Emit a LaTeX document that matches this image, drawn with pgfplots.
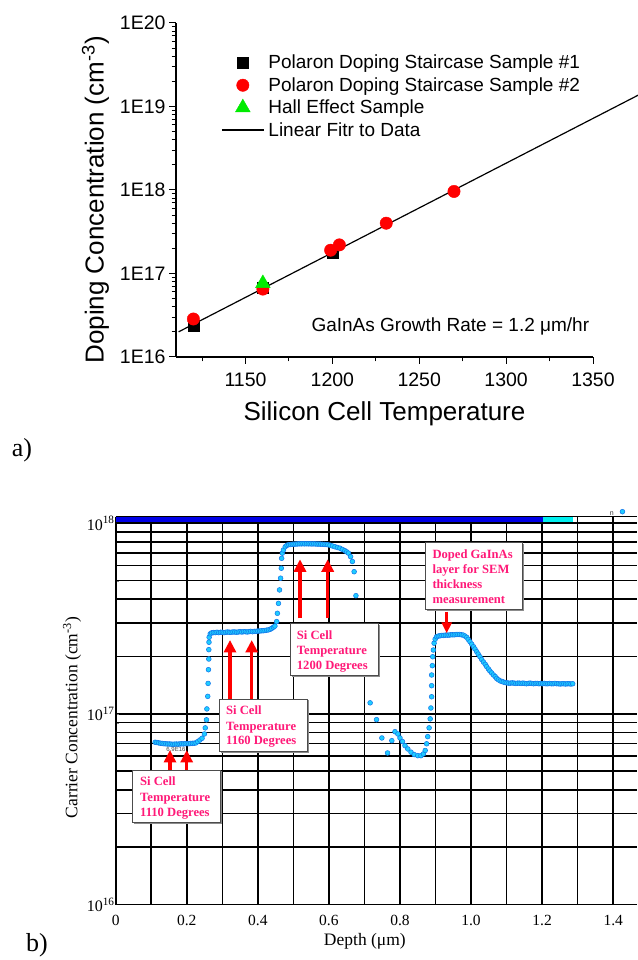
\documentclass[border=0pt]{standalone}
\usepackage{fontspec}
\setmainfont{Liberation Sans}
\newfontfamily\tnr{Liberation Serif}
\usepackage{pgfplots}
\pgfplotsset{compat=1.18}
\usetikzlibrary{arrows.meta}
\definecolor{ptgreen}{RGB}{0,235,0}
\definecolor{annpink}{RGB}{255,25,120}
\definecolor{dotfill}{RGB}{30,205,255}
\definecolor{dotedge}{RGB}{20,120,235}
\definecolor{barblue}{RGB}{0,0,230}
\definecolor{barcyan}{RGB}{0,240,240}
\newcommand{\fs}[1]{\fontsize{#1pt}{#1pt}\selectfont}
\begin{document}
\begin{tikzpicture}
\useasboundingbox (0pt,0pt) rectangle (637pt,960pt);
% ---------------- top chart ----------------
\begin{axis}[
  at={(176pt,603pt)}, anchor=south west,
  scale only axis, width=417pt, height=334pt,
  xmin=1110, xmax=1350, ymode=log, ymin=1e16, ymax=1e20,
  clip=false,
  axis x line*=bottom, axis y line*=left,
  axis line style={line width=1.3pt},
  tick align=outside,
  xtick={1150,1200,1250,1300,1350},
  xticklabels={1150,1200,1250,1300,1350},
  minor xtick={1125,1175,1225,1275,1325},
  ytick={1e16,1e17,1e18,1e19,1e20},
  yticklabels={1E16,1E17,1E18,1E19,1E20},
  minor ytick={2e16,3e16,4e16,5e16,6e16,7e16,8e16,9e16,2e17,3e17,4e17,5e17,6e17,7e17,8e17,9e17,2e18,3e18,4e18,5e18,6e18,7e18,8e18,9e18,2e19,3e19,4e19,5e19,6e19,7e19,8e19,9e19},
  major tick length=7pt, minor tick length=4.5pt,
  every tick/.append style={black, line width=1pt},
  ticklabel style={font=\fs{19.5}},
  xticklabel style={yshift=-5pt},
  xlabel={Silicon Cell Temperature},
  ylabel={Doping Concentration (cm\textsuperscript{-3})},
  label style={font=\fs{26}},
  xlabel style={at={(axis description cs:0.5,0)}, anchor=center, yshift=-57pt},
  ylabel style={at={(axis description cs:-0.193,0.47)}, anchor=center},
  legend style={draw=none, fill=none, at={(axis description cs:0.108,0.907)}, anchor=north west, font=\fs{19}, row sep=5.1pt, nodes={inner sep=1pt}, inner sep=0pt},
  legend cell align=left,
  legend image code/.code={\draw[mark repeat=2,mark phase=2,#1] plot coordinates {(0pt,0pt)(21pt,0pt)(42pt,0pt)};},
]
\addplot[only marks, mark=square*, mark size=5.5pt, black] coordinates {(1120,2.4e16)(1160,6.8e16)(1200,1.75e17)};
\addlegendentry{\hspace{3pt}Polaron Doping Staircase Sample \#1}
\addplot[only marks, mark=*, mark size=6.2pt, red] coordinates {(1120,2.85e16)(1160,6.5e16)(1199,1.9e17)(1204,2.2e17)(1231,4.0e17)(1270,9.6e17)};
\addlegendentry{\hspace{3pt}Polaron Doping Staircase Sample \#2}
\addplot[only marks, mark=triangle*, mark size=8.5pt, ptgreen] coordinates {(1160,7.6e16)};
\addlegendentry{\hspace{3pt}Hall Effect Sample}
\addplot[black, line width=1.2pt] coordinates {(1111.5,2.0e16)(1377,1.40e19)};
\addlegendentry{\hspace{3pt}Linear Fitr to Data}
\end{axis}
\node[anchor=east, inner sep=0pt, font=\fs{19}] at (589.3pt,633.3pt) {GaInAs Growth Rate = 1.2 μm/hr};
\node[font=\tnr\fs{26}] at (22pt,510pt) {a)};
% ---------------- bottom chart ----------------
\begin{axis}[
  at={(115.7pt,55.4pt)}, anchor=south west,
  scale only axis, width=521.3pt, height=387.9pt,
  xmin=0, xmax=1.467, ymode=log, ymin=1e16, ymax=1.083e18,
  clip=false,
  axis x line*=bottom, axis y line*=left,
  axis line style={line width=1.7pt, black},
  xtick={0,0.1,0.2,0.3,0.4,0.5,0.6,0.7,0.8,0.9,1.0,1.1,1.2,1.3,1.4},
  xticklabels={0,,0.2,,0.4,,0.6,,0.8,,1.0,,1.2,,1.4},
  ytick={1e16,1e17,1e18},
  yticklabels={10\textsuperscript{16},10\textsuperscript{17},10\textsuperscript{18}},
  extra y ticks={2e16,3e16,4e16,5e16,6e16,7e16,8e16,9e16,2e17,3e17,4e17,5e17,6e17,7e17,8e17,9e17},
  extra y tick labels={},
  extra y tick style={grid=major, major tick length=0pt},
  grid=major,
  major grid style={black, line width=1.6pt},
  major tick length=0pt,
  xticklabel style={font=\tnr\fs{15.5}, yshift=-7pt},
  yticklabel style={font=\tnr\fs{16}, inner sep=1pt},
  xlabel={Depth (μm)},
  ylabel={Carrier Concentration (cm\textsuperscript{-3})},
  label style={font=\tnr\fs{17.5}},
  xlabel style={at={(axis description cs:0.478,0)}, anchor=center, yshift=-37pt},
  ylabel style={at={(axis description cs:-0.0838,0.482)}, anchor=center},
]
\draw[black, line width=0.6pt] (axis cs:0,1.083e18) -- (axis cs:1.467,1.083e18);
\draw[barblue, line width=4.5pt] (axis cs:0,1.047e18) -- (axis cs:1.2017,1.047e18);
\draw[barcyan, line width=4.5pt] (axis cs:1.2017,1.047e18) -- (axis cs:1.287,1.047e18);
\addplot[only marks, mark=*, mark size=2.4pt, mark options={fill=dotfill, draw=dotedge, line width=0.55pt}] coordinates {
(0.111,7.10e16)(0.116,7.08e16)(0.121,7.05e16)(0.126,7.02e16)(0.131,7.00e16)(0.136,6.98e16)(0.141,6.97e16)(0.146,6.95e16)(0.151,6.96e16)(0.156,6.94e16)(0.161,6.93e16)(0.166,6.94e16)(0.171,6.95e16)(0.176,6.94e16)(0.181,6.96e16)(0.186,6.97e16)(0.191,6.96e16)(0.196,6.98e16)(0.201,6.99e16)(0.206,6.98e16)(0.211,7.00e16)(0.216,7.01e16)(0.221,7.02e16)(0.226,7.05e16)
(0.231,7.16e16)(0.237,7.30e16)(0.243,7.45e16)(0.2497,7.85e16)(0.252,8.45e16)(0.2555,9.31e16)(0.2566,1.062e17)(0.259,1.236e17)(0.260,1.445e17)(0.261,1.706e17)(0.262,1.941e17)(0.262,2.173e17)(0.2625,2.377e17)(0.263,2.523e17)(0.266,2.63e17)
(0.270,2.66e17)(0.275,2.67e17)(0.280,2.67e17)(0.285,2.68e17)(0.290,2.67e17)(0.295,2.68e17)(0.300,2.68e17)(0.305,2.67e17)(0.310,2.68e17)(0.315,2.69e17)(0.320,2.68e17)(0.325,2.68e17)(0.330,2.69e17)(0.335,2.69e17)(0.340,2.68e17)(0.345,2.69e17)(0.350,2.70e17)(0.355,2.69e17)(0.360,2.70e17)(0.365,2.70e17)(0.370,2.69e17)(0.375,2.70e17)(0.380,2.71e17)(0.385,2.70e17)(0.390,2.71e17)(0.395,2.71e17)(0.400,2.72e17)(0.405,2.72e17)(0.410,2.73e17)(0.415,2.73e17)(0.420,2.74e17)(0.425,2.75e17)(0.430,2.76e17)
(0.435,2.78e17)(0.439,2.81e17)(0.444,2.85e17)(0.448,2.89e17)(0.453,3.05e17)(0.455,3.37e17)(0.458,3.80e17)(0.461,4.47e17)(0.464,5.15e17)(0.466,5.81e17)(0.467,6.55e17)(0.469,6.97e17)(0.472,7.24e17)(0.477,7.53e17)(0.482,7.67e17)
(0.487,7.72e17)(0.492,7.74e17)(0.497,7.76e17)(0.502,7.77e17)(0.507,7.78e17)(0.512,7.79e17)(0.517,7.80e17)(0.522,7.80e17)(0.527,7.81e17)(0.532,7.80e17)(0.537,7.81e17)(0.542,7.80e17)(0.547,7.80e17)(0.552,7.79e17)(0.557,7.80e17)(0.562,7.79e17)(0.567,7.78e17)(0.572,7.78e17)(0.577,7.77e17)(0.582,7.76e17)(0.587,7.75e17)(0.592,7.74e17)(0.597,7.72e17)
(0.603,7.67e17)(0.610,7.60e17)(0.617,7.53e17)(0.624,7.46e17)(0.631,7.40e17)(0.638,7.29e17)(0.645,7.18e17)(0.650,7.08e17)(0.655,6.97e17)(0.661,6.68e17)(0.666,6.30e17)(0.671,5.57e17)(0.676,4.17e17)
(0.716,1.143e17)(0.734,9.33e16)(0.749,7.48e16)(0.765,6.24e16)(0.777,7.24e16)(0.786,8.07e16)(0.794,7.85e16)(0.800,7.48e16)(0.807,7.16e16)(0.814,6.82e16)(0.822,6.55e16)(0.831,6.30e16)(0.840,6.12e16)(0.850,6.04e16)(0.859,6.04e16)(0.866,6.17e16)(0.871,6.43e16)(0.875,6.97e16)(0.878,7.60e16)(0.882,8.45e16)(0.885,9.42e16)(0.887,1.074e17)(0.889,1.230e17)(0.889,1.406e17)(0.889,1.600e17)(0.891,1.791e17)(0.892,1.995e17)(0.894,2.163e17)(0.896,2.350e17)(0.899,2.466e17)(0.903,2.541e17)(0.908,2.56e17)
(0.913,2.57e17)(0.918,2.58e17)(0.923,2.58e17)(0.928,2.59e17)(0.933,2.59e17)(0.938,2.59e17)(0.943,2.60e17)(0.948,2.60e17)(0.953,2.60e17)(0.958,2.61e17)(0.963,2.61e17)(0.968,2.61e17)(0.973,2.60e17)(0.978,2.59e17)(0.983,2.56e17)
(0.988,2.52e17)(0.992,2.46e17)(0.997,2.39e17)(1.002,2.32e17)(1.007,2.25e17)(1.011,2.19e17)(1.016,2.12e17)(1.020,2.06e17)(1.025,1.995e17)(1.030,1.93e17)(1.035,1.87e17)(1.040,1.82e17)(1.044,1.77e17)(1.049,1.72e17)(1.053,1.68e17)(1.058,1.64e17)(1.063,1.60e17)(1.068,1.57e17)(1.072,1.535e17)(1.077,1.51e17)(1.082,1.49e17)(1.087,1.48e17)(1.091,1.47e17)(1.096,1.46e17)
(1.101,1.455e17)(1.106,1.45e17)(1.111,1.45e17)(1.116,1.455e17)(1.121,1.45e17)(1.126,1.445e17)(1.131,1.45e17)(1.136,1.45e17)(1.141,1.445e17)(1.146,1.45e17)(1.151,1.445e17)(1.156,1.44e17)(1.161,1.445e17)(1.166,1.45e17)(1.171,1.445e17)(1.176,1.44e17)(1.181,1.445e17)(1.186,1.445e17)(1.191,1.44e17)(1.196,1.445e17)(1.201,1.44e17)(1.206,1.445e17)(1.211,1.44e17)(1.216,1.44e17)(1.221,1.445e17)(1.226,1.44e17)(1.231,1.44e17)(1.236,1.445e17)(1.241,1.44e17)(1.246,1.44e17)(1.251,1.435e17)(1.256,1.44e17)(1.261,1.44e17)(1.266,1.435e17)(1.271,1.44e17)(1.276,1.44e17)(1.281,1.435e17)(1.286,1.44e17)
(1.426,1.15e18)
};
\end{axis}
% small labels
\node[font=\fs{6}, text=black!75] at (176pt,210.7pt) {6.9E16};
\node[font=\fs{7}, text=black!80] at (611.7pt,446.7pt) {n};
% arrows
\tikzset{redarr/.style={red, line width=3.2pt, -{Triangle[width=12pt,length=12.5pt]}}}
\draw[redarr] (170pt,190pt) -- (170pt,210pt);
\draw[redarr] (186.7pt,190pt) -- (186.7pt,210pt);
\draw[redarr] (230pt,261pt) -- (230pt,320pt);
\draw[redarr] (251.7pt,261pt) -- (251.7pt,320pt);
\draw[redarr] (300pt,341.7pt) -- (300pt,400.7pt);
\draw[redarr] (327.7pt,341.7pt) -- (327.7pt,400.7pt);
\draw[red, line width=3.2pt, -{Triangle[width=10pt,length=11pt]}] (446.7pt,348.3pt) -- (446.7pt,326.7pt);
% boxes
\tikzset{abox/.style={fill=white, draw=black!70, line width=0.8pt}}
\fill[black!45] (133.8pt,136.2pt) rectangle (222.2pt,188.5pt);
\draw[abox] (132.3pt,137.7pt) rectangle (220.7pt,190pt);
\fill[black!45] (220.5pt,206.8pt) rectangle (308.8pt,259.5pt);
\draw[abox] (219pt,208.3pt) rectangle (307.3pt,261pt);
\fill[black!45] (291.5pt,282.8pt) rectangle (379.8pt,335.2pt);
\draw[abox] (290pt,284.3pt) rectangle (378.3pt,336.7pt);
\fill[black!45] (427.2pt,349.2pt) rectangle (524.2pt,416.2pt);
\draw[abox] (425.7pt,350.7pt) rectangle (522.7pt,417.7pt);
\tikzset{btxt/.style={anchor=base west, inner sep=0pt, font=\tnr\bfseries\fs{12.6}, text=annpink}}
\node[btxt] at (140pt,174.1pt) {Si Cell};
\node[btxt] at (140pt,158.5pt) {Temperature};
\node[btxt] at (140pt,143.5pt) {1110 Degrees};
\node[btxt] at (226pt,245.1pt) {Si Cell};
\node[btxt] at (226pt,229.8pt) {Temperature};
\node[btxt] at (226pt,215.1pt) {1160 Degrees};
\node[btxt] at (296.7pt,320.8pt) {Si Cell};
\node[btxt] at (296.7pt,305.8pt) {Temperature};
\node[btxt] at (296.7pt,290.8pt) {1200 Degrees};
\node[btxt] at (432.3pt,401.8pt) {Doped GaInAs};
\node[btxt] at (432.3pt,386.8pt) {layer for SEM};
\node[btxt] at (432.3pt,371.8pt) {thickness};
\node[btxt] at (432.3pt,356.8pt) {measurement};
\node[font=\tnr\fs{26}] at (37pt,15pt) {b)};
\end{tikzpicture}
\end{document}
